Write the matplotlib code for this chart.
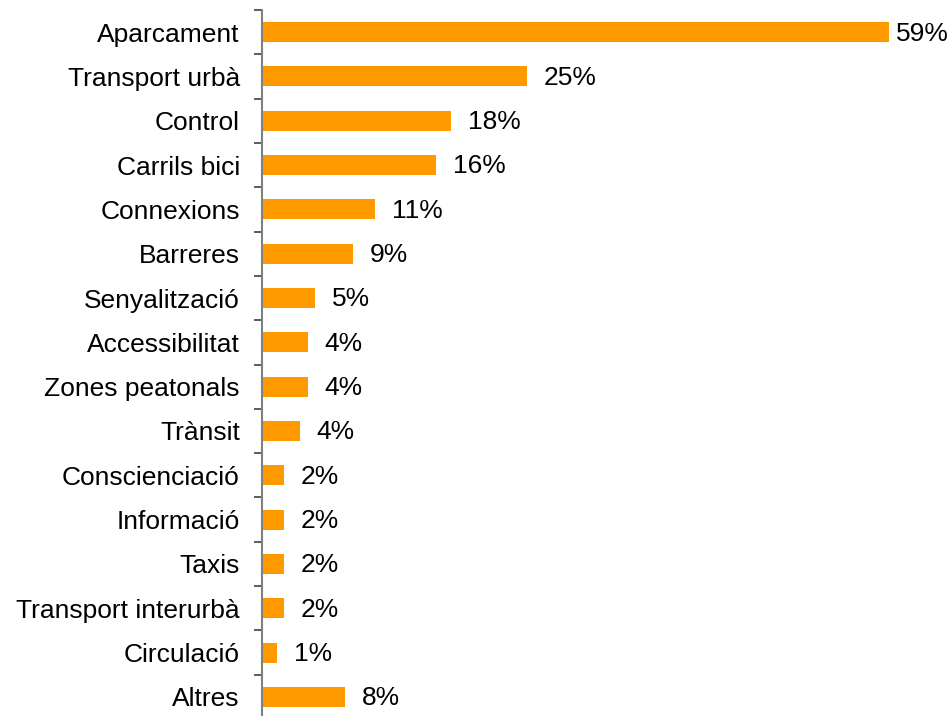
import matplotlib
matplotlib.use("Agg")
import matplotlib.pyplot as plt
import numpy as np

plt.rcParams['font.family'] = ['Liberation Sans', 'DejaVu Sans']

categories = ["Aparcament", "Transport urbà", "Control", "Carrils bici", "Connexions",
              "Barreres", "Senyalització", "Accessibilitat", "Zones peatonals", "Trànsit",
              "Conscienciació", "Informació", "Taxis", "Transport interurbà", "Circulació", "Altres"]
values = [59.15, 24.97, 17.83, 16.42, 10.66, 8.56, 5.0, 4.31, 4.31, 3.58,
          2.1, 2.1, 2.1, 2.1, 1.42, 7.86]
labels = ["59%", "25%", "18%", "16%", "11%", "9%", "5%", "4%", "4%", "4%",
          "2%", "2%", "2%", "2%", "1%", "8%"]

W, H = 953, 716
fig = plt.figure(figsize=(W / 100, H / 100), dpi=100)
ax = fig.add_axes([262 / W, (H - 719) / H, (W - 262) / W, 709 / H])

n = len(categories)
y = np.arange(n)
ax.barh(y, values, height=0.45, color='#FF9900', edgecolor='none')
ax.set_ylim(n - 0.5, -0.5)
ax.set_xlim(0, 65.2)

ax.set_yticks(y)
ax.set_yticklabels(categories, fontsize=19)
ax.set_yticks(np.arange(-0.5, n, 1.0), minor=True)
ax.tick_params(axis='y', which='major', length=0, pad=16)
ax.tick_params(axis='y', which='minor', length=6, width=1.2, color='#404040', direction='out')
ax.set_xticks([])

for s in ['top', 'right', 'bottom']:
    ax.spines[s].set_visible(False)
ax.spines['left'].set_color('#808080')
ax.spines['left'].set_linewidth(1.5)

for i, (v, lab) in enumerate(zip(values, labels)):
    off = 5 if i == 0 else 12
    ax.annotate(lab, (v, i), xytext=(off, -1), textcoords='offset points',
                va='center', ha='left', fontsize=19, color='black', annotation_clip=False)

fig.savefig("out.png", dpi=100)
